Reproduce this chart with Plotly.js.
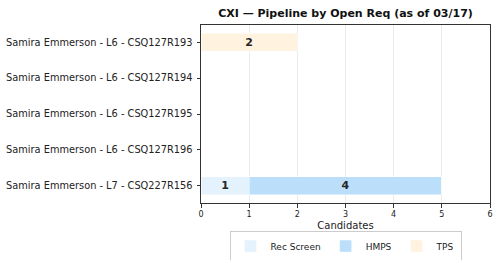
<!DOCTYPE html>
<html>
<head>
<meta charset="utf-8">
<script src="https://cdn.plot.ly/plotly-3.0.1.min.js"></script>
<style>html,body{margin:0;padding:0;background:#fff;}#chart{width:500px;height:260px;}</style>
</head>
<body>
<div id="chart"></div>
<script>
const categories = [
  "Samira Emmerson - L6 - CSQ127R193",
  "Samira Emmerson - L6 - CSQ127R194",
  "Samira Emmerson - L6 - CSQ127R195",
  "Samira Emmerson - L6 - CSQ127R196",
  "Samira Emmerson - L7 - CSQ227R156"
];
const recScreen = [0, 0, 0, 0, 1];
const hmps = [0, 0, 0, 0, 4];
const tps = [2, 0, 0, 0, 0];
const seriesNames = ["Rec Screen", "HMPS", "TPS"];
const seriesColors = ["#e3f2fd", "#bbdefb", "#fff3e0"];
const xTicks = [0, 1, 2, 3, 4, 5, 6];

const font = "DejaVu Sans, sans-serif";
const allSeries = [recScreen, hmps, tps];
const traces = allSeries.map((vals, i) => ({
  type: "bar",
  orientation: "h",
  y: categories,
  x: vals,
  name: seriesNames[i],
  width: 0.5,
  marker: { color: seriesColors[i], line: { color: "rgba(255,255,255,0.8)", width: 0.6 } },
  text: vals.map(v => v > 0 ? "<b>" + v + "</b>" : ""),
  textposition: "inside",
  insidetextanchor: "middle",
  constraintext: "none",
  textangle: 0,
  textfont: { family: font, size: 11, color: "#262626" },
  hoverinfo: "skip"
}));

const layout = {
  width: 500, height: 260,
  margin: { l: 201, r: 10, t: 25, b: 57, pad: 0, autoexpand: false },
  barmode: "stack",
  paper_bgcolor: "#fff",
  plot_bgcolor: "#fff",
  font: { family: font, size: 10, color: "#222" },
  title: {
    text: "<b>CXI — Pipeline by Open Req (as of 03/17)</b>",
    font: { family: font, size: 11, color: "#111" },
    x: 0.5, xref: "paper", xanchor: "center",
    y: 1 - 13 / 260, yref: "container", yanchor: "middle"
  },
  xaxis: {
    range: [0, 6],
    tickvals: xTicks,
    ticktext: xTicks.map(String),
    showgrid: true, gridcolor: "#ebebeb", gridwidth: 1,
    zeroline: false,
    showline: true, linecolor: "#333", linewidth: 1, mirror: true,
    ticks: "outside", ticklen: 3.5, tickcolor: "#333", tickwidth: 1,
    tickfont: { family: font, size: 8, color: "#222" },
    automargin: false,
    title: { text: "Candidates", font: { family: font, size: 10, color: "#222" }, standoff: 3 }
  },
  yaxis: {
    type: "category",
    range: [4.475, -0.475],
    autorange: false,
    showgrid: false,
    zeroline: false,
    automargin: false,
    showline: true, linecolor: "#333", linewidth: 1, mirror: true,
    ticks: "outside", ticklen: 3.5, tickcolor: "#333", tickwidth: 1,
    ticklabelstandoff: 2,
    tickfont: { family: font, size: 9.8, color: "#222" }
  },
  legend: {
    orientation: "h",
    x: 0.5, xanchor: "center",
    y: -0.155, yanchor: "top",
    bordercolor: "#ccc", borderwidth: 1,
    bgcolor: "#fff",
    font: { family: font, size: 9, color: "#222" },
    traceorder: "normal",
    itemwidth: 30,
    tracegroupgap: 0
  },
  showlegend: true
};

Plotly.newPlot("chart", traces, layout, { staticPlot: true, displayModeBar: false });
</script>
</body>
</html>
